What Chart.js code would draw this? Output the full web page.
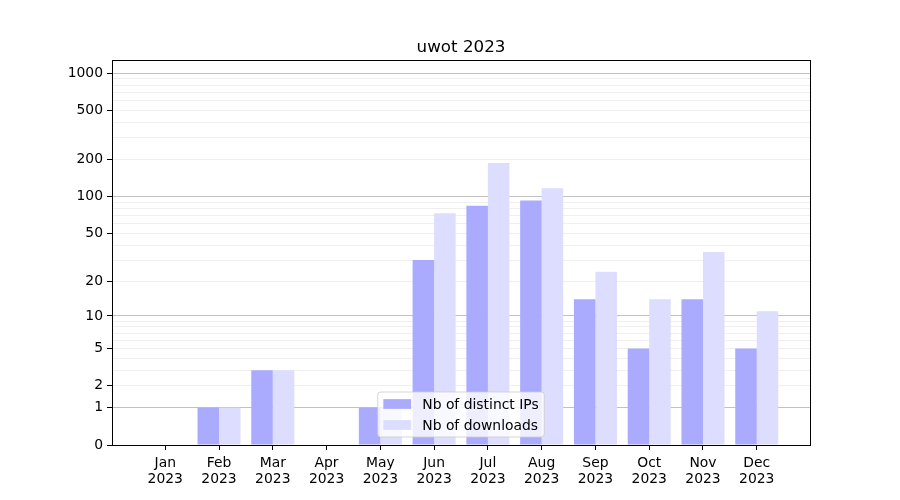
<!DOCTYPE html>
<html><head><meta charset="utf-8">
<script src="https://cdn.jsdelivr.net/npm/chart.js@4.4.0/dist/chart.umd.min.js"></script>
<style>html,body{margin:0;padding:0;background:#fff}</style>
</head><body>
<canvas id="c" width="900" height="500"></canvas>
<script>
// ---- data ----
const months = ['Jan','Feb','Mar','Apr','May','Jun','Jul','Aug','Sep','Oct','Nov','Dec'];
const years = ['2023','2023','2023','2023','2023','2023','2023','2023','2023','2023','2023','2023'];
const distinctIPs = [0, 1, 3, 0, 1, 30, 84, 93, 14, 5, 14, 5];
const downloads = [0, 1, 3, 0, 1, 73, 187, 117, 24, 14, 35, 11];
const yLabeledTicks = [0, 1, 2, 5, 10, 20, 50, 100, 200, 500, 1000];
const yMajorGrid = [1, 10, 100, 1000];
const yGridValues = [0,1,2,3,4,5,6,7,8,9,10,20,30,40,50,60,70,80,90,100,200,300,400,500,600,700,800,900,1000];
const yMax = 1273;
const titleText = 'uwot 2023';
const seriesLabels = ['Nb of distinct IPs', 'Nb of downloads'];
const seriesColors = ['#aaaaff', '#ddddff'];

// ---- log(1+x) scale ----
class Log1pScale extends Chart.Scale {
  determineDataLimits() {
    this.min = this.options.min ?? 0;
    this.max = this.options.max ?? 1000;
  }
  buildTicks() {
    return yGridValues.map(v => ({value: v}));
  }
  getLabelForValue(v) { return String(v); }
  configure() {
    super.configure();
    this._startValue = Math.log10(1 + this.min);
    this._valueRange = Math.log10(1 + this.max) - this._startValue;
  }
  getPixelForValue(value) {
    if (value === undefined || value === null || isNaN(value)) value = this.min;
    return this.getPixelForDecimal((Math.log10(1 + value) - this._startValue) / this._valueRange);
  }
  getValueForPixel(pixel) {
    const d = this.getDecimalForPixel(pixel);
    return Math.pow(10, this._startValue + d * this._valueRange) - 1;
  }
}
Log1pScale.id = 'log1p';
Log1pScale.defaults = {};
Chart.register(Log1pScale);

const FONT = "'DejaVu Sans', sans-serif";

const framePlugin = {
  id: 'frameLegend',
  afterDraw(chart) {
    const {ctx, chartArea: a} = chart;
    ctx.save();
    // frame (spines)
    ctx.strokeStyle = '#000';
    ctx.lineWidth = 1;
    const L = Math.round(a.left), T = Math.round(a.top), R = Math.round(a.right), B = Math.round(a.bottom);
    ctx.strokeRect(L + 0.5, T + 0.5, R - L, B - T);
    // legend (lower center)
    const fs = 13.9;
    ctx.font = fs + "px " + FONT;
    const ds = chart.data.datasets;
    let tw = 0;
    ds.forEach(d => { tw = Math.max(tw, ctx.measureText(d.label).width); });
    const pad = 0.4 * fs, hl = 2.0 * fs, htp = 0.8 * fs;
    const w = pad + hl + htp + tw + pad;
    const h = 45;
    const cx = (a.left + a.right) / 2;
    const x0 = cx - w / 2;
    const y1 = a.bottom - 8;
    const y0 = y1 - h;
    const r = 3;
    ctx.beginPath();
    ctx.moveTo(x0 + r, y0);
    ctx.lineTo(x0 + w - r, y0); ctx.quadraticCurveTo(x0 + w, y0, x0 + w, y0 + r);
    ctx.lineTo(x0 + w, y1 - r); ctx.quadraticCurveTo(x0 + w, y1, x0 + w - r, y1);
    ctx.lineTo(x0 + r, y1); ctx.quadraticCurveTo(x0, y1, x0, y1 - r);
    ctx.lineTo(x0, y0 + r); ctx.quadraticCurveTo(x0, y0, x0 + r, y0);
    ctx.closePath();
    ctx.fillStyle = 'rgba(255,255,255,0.8)';
    ctx.fill();
    ctx.strokeStyle = 'rgba(204,204,204,0.8)';
    ctx.lineWidth = 1;
    ctx.stroke();
    ds.forEach((d, i) => {
      const yc = y0 + 12 + i * 21;
      ctx.fillStyle = d.backgroundColor;
      ctx.fillRect(x0 + pad, yc - 0.35 * fs, hl, 0.7 * fs);
      ctx.fillStyle = '#000';
      ctx.textBaseline = 'middle';
      ctx.textAlign = 'left';
      ctx.fillText(d.label, x0 + pad + hl + htp, yc + 1);
    });
    ctx.restore();
  }
};

new Chart(document.getElementById('c'), {
  type: 'bar',
  data: {
    datasets: [
      { label: seriesLabels[0], data: distinctIPs.map((v, i) => ({x: i, y: v})), backgroundColor: seriesColors[0], borderWidth: 0 },
      { label: seriesLabels[1], data: downloads.map((v, i) => ({x: i, y: v})), backgroundColor: seriesColors[1], borderWidth: 0 }
    ]
  },
  options: {
    responsive: false,
    animation: false,
    devicePixelRatio: 1,
    categoryPercentage: 0.8,
    barPercentage: 1.0,
    layout: { padding: { left: 0, right: 90, top: 0, bottom: 0 } },
    plugins: {
      legend: { display: false },
      tooltip: { enabled: false },
      title: {
        display: true, text: titleText, fullSize: false, color: '#000',
        font: { family: FONT, size: 16.7, weight: 'normal', lineHeight: 1.2 },
        padding: { top: 38, bottom: 2 }
      }
    },
    scales: {
      x: {
        type: 'linear', min: -0.99, max: 11.99, bounds: 'data', offset: false,
        grid: { offset: false, drawOnChartArea: false, drawTicks: true, tickLength: 5, tickColor: '#000', color: 'rgba(0,0,0,0)' },
        border: { display: false },
        afterBuildTicks: s => { s.ticks = months.map((m, i) => ({value: i})); },
        afterFit: s => { s.height = 55; },
        ticks: {
          autoSkip: false, maxRotation: 0, minRotation: 0, color: '#000', padding: 5,
          font: { family: FONT, size: 13.9, lineHeight: 1.15 },
          callback: v => [months[v], years[v]]
        }
      },
      y: {
        type: 'log1p', min: 0, max: yMax, z: 1,
        grid: {
          drawTicks: true, tickLength: 5, lineWidth: 1,
          color: c => {
            const v = c.tick ? c.tick.value : null;
            if (v === 0) return 'rgba(0,0,0,0)';
            return yMajorGrid.includes(v) ? 'rgba(100,100,100,0.4)' : 'rgba(100,100,100,0.1)';
          },
          tickColor: c => (c.tick && yLabeledTicks.includes(c.tick.value)) ? '#000' : 'rgba(0,0,0,0)'
        },
        border: { display: false },
        afterFit: s => { s.width = 112; },
        ticks: {
          autoSkip: false, color: '#000', padding: 4,
          font: { family: FONT, size: 13.9 },
          callback: v => yLabeledTicks.includes(v) ? String(v) : ''
        }
      }
    }
  },
  plugins: [framePlugin]
});
</script>
</body></html>
